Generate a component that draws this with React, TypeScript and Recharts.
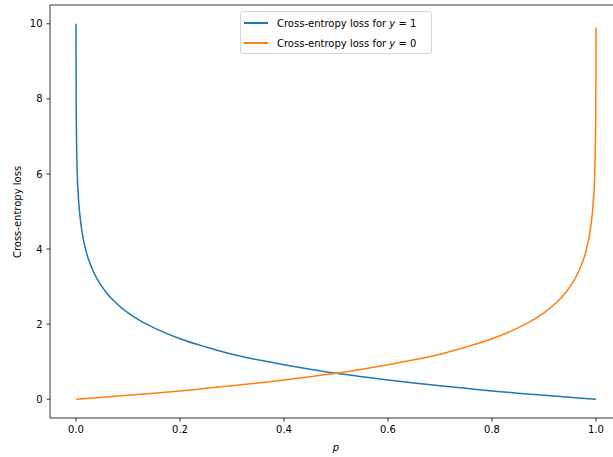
import React from "react";
import { LineChart, Line, XAxis, YAxis, ReferenceLine } from "recharts";

const pValues = [
  0.0000454, 0.0002, 0.0005, 0.001, 0.002, 0.005, 0.01, 0.02, 0.03, 0.04, 0.05, 0.06, 0.075, 0.1, 0.125, 0.15,
  0.2, 0.25, 0.3, 0.35, 0.4, 0.45, 0.5, 0.55, 0.6, 0.65, 0.7, 0.75, 0.8, 0.85, 0.875, 0.9, 0.925, 0.94, 0.95,
  0.96, 0.97, 0.98, 0.99, 0.995, 0.998, 0.999, 0.9995, 0.9998, 0.99995,
];
const lossY1 = [
  10.0, 8.52, 7.6, 6.91, 6.21, 5.3, 4.61, 3.91, 3.51, 3.22, 3.0, 2.81, 2.59, 2.3, 2.08, 1.9,
  1.61, 1.39, 1.2, 1.05, 0.92, 0.8, 0.69, 0.6, 0.51, 0.43, 0.36, 0.29, 0.22, 0.16, 0.134, 0.105, 0.078, 0.062, 0.051,
  0.041, 0.03, 0.02, 0.01, 0.005, 0.002, 0.001, 0.0005, 0.0002, 0.00005,
];
const lossY0 = [
  0.00005, 0.0002, 0.0005, 0.001, 0.002, 0.005, 0.01, 0.02, 0.03, 0.041, 0.051, 0.062, 0.078, 0.105, 0.134, 0.16,
  0.22, 0.29, 0.36, 0.43, 0.51, 0.6, 0.69, 0.8, 0.92, 1.05, 1.2, 1.39, 1.61, 1.9, 2.08, 2.3, 2.59, 2.81, 3.0,
  3.22, 3.51, 3.91, 4.61, 5.3, 6.21, 6.91, 7.6, 8.52, 9.9,
];
const xTicks = [0, 0.2, 0.4, 0.6, 0.8, 1.0];
const yTicks = [0, 2, 4, 6, 8, 10];
const seriesNames = ["Cross-entropy loss for ", "Cross-entropy loss for "];
const seriesSuffix = [" = 1", " = 0"];

const BLUE = "#1f77b4";
const ORANGE = "#ff7f0e";
const FONT = "'DejaVu Sans', sans-serif";

const data = pValues.map((p, i) => ({ p, y1: lossY1[i], y0: lossY0[i] }));

export default function App() {
  const tickStyle = { fontFamily: FONT, fontSize: 10, fill: "#000" };
  return (
    <div
      style={{
        position: "fixed",
        left: 0,
        top: 0,
        width: 613,
        height: 457,
        overflow: "hidden",
        background: "#fff",
      }}
    >
      <LineChart
        width={640}
        height={457}
        data={data}
        margin={{ top: 5, right: 18, bottom: 0, left: 0 }}
      >
        <XAxis
          dataKey="p"
          type="number"
          domain={[-0.05, 1.05]}
          ticks={xTicks}
          tickFormatter={(v: number) => v.toFixed(1)}
          height={39}
          tickSize={3.5}
          tickMargin={4}
          tick={tickStyle}
          axisLine={{ stroke: "#000", strokeWidth: 0.8 }}
          tickLine={{ stroke: "#000", strokeWidth: 0.8 }}
          allowDataOverflow
        />
        <YAxis
          type="number"
          domain={[-0.5, 10.5]}
          ticks={yTicks}
          width={50}
          tickSize={3.5}
          tickMargin={4}
          tick={tickStyle}
          axisLine={{ stroke: "#000", strokeWidth: 0.8 }}
          tickLine={{ stroke: "#000", strokeWidth: 0.8 }}
          allowDataOverflow
        />
        <ReferenceLine y={10.5} stroke="#000" strokeWidth={0.8} ifOverflow="visible" />
        <ReferenceLine x={1.05} stroke="#000" strokeWidth={0.8} ifOverflow="visible" />
        <Line
          dataKey="y1"
          type="monotoneX"
          stroke={BLUE}
          strokeWidth={1.5}
          dot={false}
          isAnimationActive={false}
        />
        <Line
          dataKey="y0"
          type="monotoneX"
          stroke={ORANGE}
          strokeWidth={1.5}
          dot={false}
          isAnimationActive={false}
        />
      </LineChart>
      <div
        style={{
          position: "absolute",
          left: 17,
          top: 212,
          transform: "translate(-50%, -50%) rotate(-90deg)",
          fontFamily: FONT,
          fontSize: 10,
          whiteSpace: "nowrap",
          color: "#000",
        }}
      >
        Cross-entropy loss
      </div>
      <div
        style={{
          position: "absolute",
          left: 336,
          top: 447,
          transform: "translate(-50%, -50%)",
          fontFamily: FONT,
          fontSize: 10,
          fontStyle: "italic",
          color: "#000",
        }}
      >
        p
      </div>
      <div
        style={{
          position: "absolute",
          left: 240,
          top: 11,
          width: 190,
          height: 41,
          border: "1px solid #d6d6d6",
          borderRadius: 3,
          background: "rgba(255,255,255,0.8)",
          fontFamily: FONT,
          fontSize: 10,
          color: "#000",
        }}
      >
        {[BLUE, ORANGE].map((c, i) => (
          <div
            key={i}
            style={{
              position: "absolute",
              left: 3,
              top: 5 + i * 20,
              height: 12,
              display: "flex",
              alignItems: "center",
              whiteSpace: "nowrap",
            }}
          >
            <span style={{ display: "inline-block", width: 24, height: 1.5, background: c, marginRight: 9 }} />
            <span>
              {seriesNames[i]}
              <i>y</i>
              {seriesSuffix[i]}
            </span>
          </div>
        ))}
      </div>
    </div>
  );
}
